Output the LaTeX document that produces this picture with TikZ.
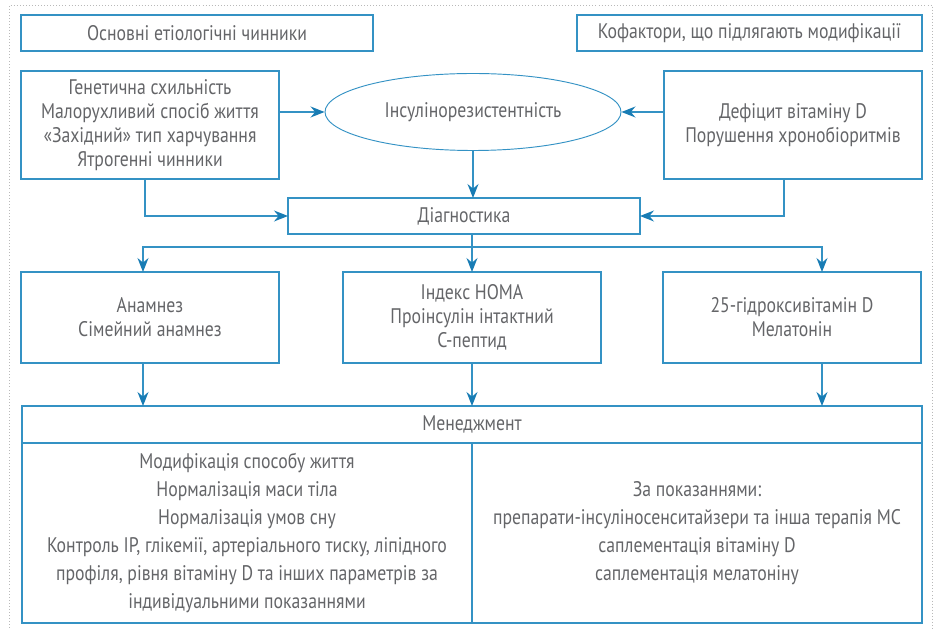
\documentclass[tikz,border=0pt]{standalone}
\usepackage{fontspec}
\setmainfont{PT Sans}[FakeStretch=0.84]
\usetikzlibrary{positioning, shapes, arrows.meta}
\definecolor{boxblue}{RGB}{52,146,196}
\definecolor{tipblue}{RGB}{24,124,180}
\definecolor{textgray}{RGB}{100,101,104}

\begin{document}
\begin{tikzpicture}[
    x=0.03cm, y=-0.03cm,
    font=\fontsize{18}{20.5}\selectfont,
    box/.style={rectangle, draw=boxblue, line width=1pt, text=textgray, align=center, outer sep=0pt},
    headbox/.style={box, minimum height=1.08cm},
    factbox/.style={box, minimum width=7.74cm, minimum height=3.24cm},
    irbox/.style={ellipse, draw=boxblue, line width=0.8pt, text=textgray,
        minimum width=8.88cm, minimum height=2.31cm},
    testbox/.style={box, minimum width=7.74cm, minimum height=2.73cm},
    colbox/.style={box, minimum width=13.5cm, minimum height=5.4cm,
        font=\fontsize{18}{24}\selectfont},
    link/.style={draw=boxblue, line width=1pt,
        -{Stealth[length=4.2mm, width=3.3mm, inset=1.4mm, color=tipblue]}},
    frame/.style={draw=gray!55, dotted, line width=0.6pt}
]

\useasboundingbox (0,0) rectangle (941,629);

% Outer frame
\draw[frame] (9,640) -- (9,5) -- (932,5) -- (932,640);

% Headings
\node[headbox, minimum width=10.56cm] (etio) at (197,33) {Основні етіологічні чинники};
\node[headbox, minimum width=10.35cm] (cofac) at (749.5,33) {Кофактори, що підлягають модифікації};

% Causes and cofactors
\node[factbox] (gen) at (150,125) {Генетична схильність \\ Малорухливий спосіб життя \\
    «Західний» тип харчування \\ Ятрогенні чинники};
\node[irbox] (ir) at (473,112) {Інсулінорезистентність};
\node[factbox] (vit) at (793,125) {Дефіцит вітаміну D \\ Порушення хронобіоритмів};

% Diagnostics
\node[headbox, minimum width=10.56cm] (diag) at (464,216) {Діагностика};

\node[testbox] (hist) at (150,317.5) {Анамнез \\ Сімейний анамнез};
\node[testbox, right=1.92cm of hist] (lab) {Індекс HOMA \\ Проінсулін інтактний \\ С-пептид};
\node[testbox, right=1.86cm of lab] (vitd) {25-гідроксивітамін D \\ Мелатонін};

% Management
\node[box, minimum width=27cm, minimum height=1.11cm] (mgmt) at (472,424.5) {Менеджмент};
\node[colbox, below right=0cm and 0cm of mgmt.south west] (mleft) {Модифікація способу життя \\
    Нормалізація маси тіла \\ Нормалізація умов сну \\
    Контроль ІР, глікемії, артеріального тиску, ліпідного \\
    профіля, рівня вітаміну D та інших параметрів за \\ індивідуальними показаннями};
\node[colbox, right=0cm of mleft] (mright) {За показаннями: \\
    препарати-інсуліносенситайзери та інша терапія МС \\
    саплементація вітаміну D \\ саплементація мелатоніну};

% Fork points
\coordinate (fork) at (472,247);
\coordinate (forkL) at (143,247);
\coordinate (forkR) at (822,247);

% Edges
\draw[link] (gen.east |- ir.west) -- (ir.west);
\draw[link] (vit.west |- ir.east) -- (ir.east);
\draw[link] (ir.south) -- (ir.south |- diag.north);
\draw[link] ([xshift=-0.15cm]gen.south) |- (diag.west);
\draw[link] ([xshift=-0.27cm]vit.south) |- (diag.east);
\draw[link] (diag.south -| fork) -- (lab.north -| fork);
\draw[link] (fork) -| (forkL |- hist.north);
\draw[link] (fork) -| (forkR |- vitd.north);
\draw[link] (hist.south -| forkL) -- (mgmt.north -| forkL);
\draw[link] (lab.south -| fork) -- (mgmt.north -| fork);
\draw[link] (vitd.south -| forkR) -- (mgmt.north -| forkR);

\end{tikzpicture}
\end{document}
